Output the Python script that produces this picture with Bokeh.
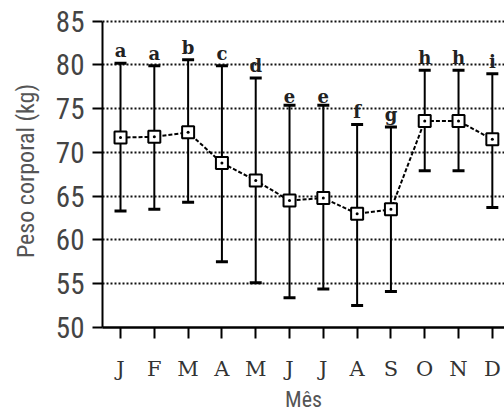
from bokeh.plotting import figure
from bokeh.models import ColumnDataSource, Whisker, TeeHead, FixedTicker, Range1d
from bokeh.core.properties import value
from bokeh.embed import file_html
from bokeh.resources import INLINE

months = ["J", "F", "M", "A", "M", "J", "J", "A", "S", "O", "N", "D"]
month_num = [1, 2, 3, 4, 5, 6, 7, 8, 9, 10, 11, 12]
mean_kg = [71.7, 71.8, 72.3, 68.8, 66.8, 64.5, 64.8, 63.0, 63.5, 73.6, 73.6, 71.5]
upper_kg = [80.2, 79.9, 80.6, 79.9, 78.5, 75.4, 75.4, 73.2, 72.9, 79.4, 79.4, 79.0]
lower_kg = [63.3, 63.5, 64.3, 57.5, 55.1, 53.4, 54.4, 52.5, 54.1, 67.9, 67.9, 63.7]
letters = ["a", "a", "b", "c", "d", "e", "e", "f", "g", "h", "h", "i"]
y_ticks = [50, 55, 60, 65, 70, 75, 80, 85]

src = ColumnDataSource(dict(x=month_num, mean=mean_kg, up=upper_kg, lo=lower_kg, lab=letters))

NARROW = "'Roboto Condensed', 'Liberation Sans Narrow', 'Open Sans Condensed', 'Roboto Light', Roboto"
SERIF = "DejaVu Serif"

p = figure(frame_width=402, frame_height=313, output_backend="svg", toolbar_location=None,
           x_range=Range1d(0.467, 12.36), y_range=Range1d(50, 85.77),
           min_border_left=102, min_border_right=0, min_border_top=14, min_border_bottom=83,
           background_fill_color="white", border_fill_color="white")
p.outline_line_color = None

# grid
p.xgrid.grid_line_color = None
p.ygrid.ticker = FixedTicker(ticks=y_ticks[1:])
p.ygrid.grid_line_color = "#111111"
p.ygrid.grid_line_width = 2
p.ygrid.grid_line_dash = "2 2"

# y axis
p.yaxis.ticker = FixedTicker(ticks=y_ticks)
p.yaxis.bounds = (50, 85)
p.yaxis.axis_line_width = 2
p.yaxis.axis_line_color = "black"
p.yaxis.major_tick_out = 10
p.yaxis.major_tick_in = 0
p.yaxis.major_tick_line_width = 2
p.yaxis.minor_tick_line_color = None
p.yaxis.major_label_standoff = 8
p.yaxis.major_label_text_font = NARROW
p.yaxis.major_label_text_font_size = "29px"
p.yaxis.major_label_text_color = "#444444"
p.yaxis.axis_label = "Peso corporal (kg)"
p.yaxis.axis_label_text_font = NARROW
p.yaxis.axis_label_text_font_style = "normal"
p.yaxis.axis_label_text_font_size = "24px"
p.yaxis.axis_label_text_color = "#555555"
p.yaxis.axis_label_standoff = 13

# x axis
p.xaxis.ticker = FixedTicker(ticks=month_num)
p.xaxis.major_label_overrides = {m: lab for m, lab in zip(month_num, months)}
p.xaxis.axis_line_width = 2.5
p.xaxis.axis_line_color = "black"
p.xaxis.major_tick_out = 11
p.xaxis.major_tick_in = 0
p.xaxis.major_tick_line_width = 2
p.xaxis.minor_tick_line_color = None
p.xaxis.major_label_standoff = 18
p.xaxis.major_label_text_font = SERIF
p.xaxis.major_label_text_font_size = "21px"
p.xaxis.major_label_text_color = "#333333"
p.xaxis.axis_label = "Mês"
p.xaxis.axis_label_text_font = NARROW
p.xaxis.axis_label_text_font_style = "normal"
p.xaxis.axis_label_text_font_size = "22px"
p.xaxis.axis_label_text_color = "#555555"
p.xaxis.axis_label_standoff = 3

# error bars
w = Whisker(source=src, base="x", upper="up", lower="lo", line_width=2, line_color="black",
            upper_head=TeeHead(size=12, line_width=3, line_color="black"),
            lower_head=TeeHead(size=12, line_width=3, line_color="black"))
p.add_layout(w)

# mean line
p.line("x", "mean", source=src, line_color="black", line_width=2, line_dash="4 2")
p.scatter("x", "mean", source=src, marker="square_dot", size=12, fill_color="white",
          line_color="black", line_width=2)

# significance letters
p.text("x", "up", text="lab", source=src, text_font=value(SERIF), text_font_size="18px",
       text_font_style="bold", text_align="center", text_baseline="bottom", y_offset=-2,
       text_color="#222222")

open("out.html", "w").write(file_html(p, INLINE))
